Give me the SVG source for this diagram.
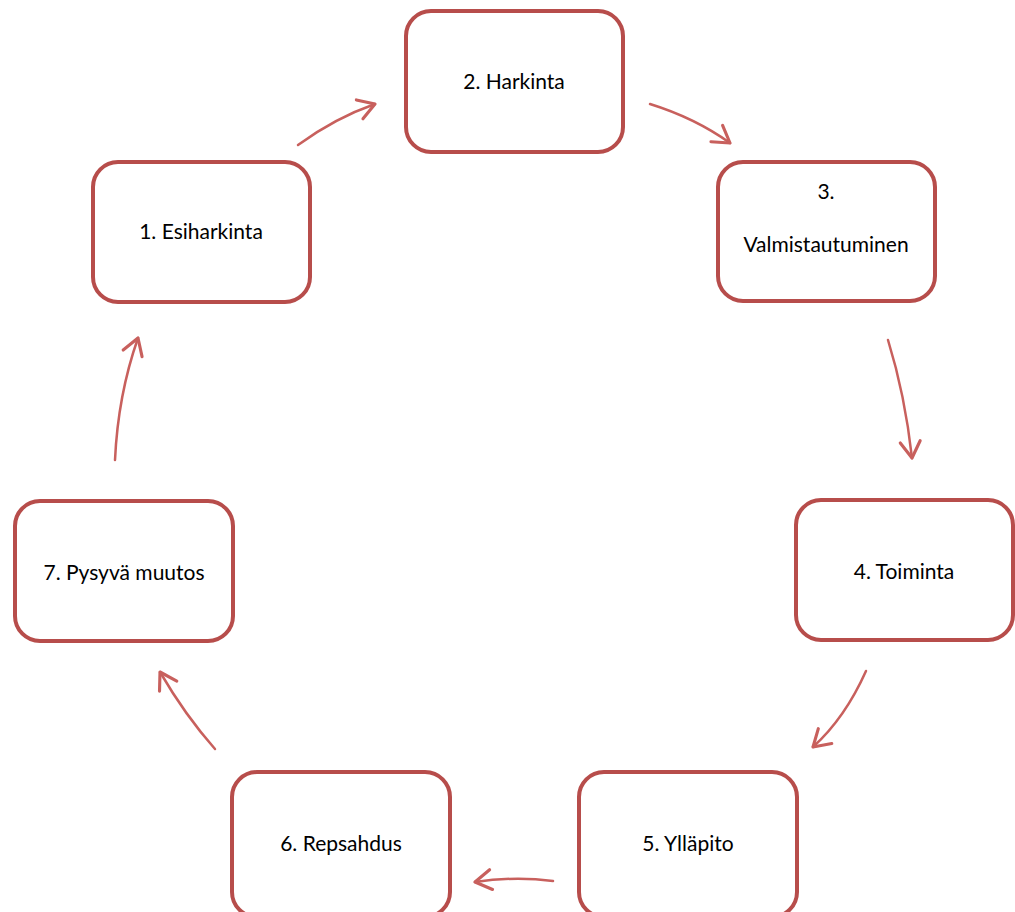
<svg xmlns="http://www.w3.org/2000/svg" width="1015" height="912" viewBox="0 0 1015 912">
<style>
.box{fill:#fff;stroke:#b74d4b;stroke-width:4}
.lbl{font-family:Lato,"Open Sans",sans-serif;font-size:21px;fill:#000;text-anchor:middle}
.arr{fill:none;stroke:#c8605d;stroke-width:2.5;stroke-linecap:round}
</style>
<defs>
<marker id="ah" markerUnits="userSpaceOnUse" markerWidth="30" markerHeight="30" refX="0" refY="0" viewBox="-16 -12 20 24" orient="auto" overflow="visible">
<path d="M-13,-8 L0,0 L-13,8" fill="none" stroke="#c8605d" stroke-width="2.5" stroke-linecap="round" stroke-linejoin="round"/>
</marker>
</defs>
<rect width="1015" height="912" fill="#fff"/>
<g id="connectors">
<path class="arr" marker-end="url(#ah)" d="M298,145 Q335,118 375,104"/>
<path class="arr" marker-end="url(#ah)" d="M650,104 Q695,118 730,143"/>
<path class="arr" marker-end="url(#ah)" d="M888,340 Q905,395 912,458"/>
<path class="arr" marker-end="url(#ah)" d="M866,671 Q845,718 813,747"/>
<path class="arr" marker-end="url(#ah)" d="M553,881 Q515,876 475,882"/>
<path class="arr" marker-end="url(#ah)" d="M215,749 Q185,715 160,672"/>
<path class="arr" marker-end="url(#ah)" d="M115,460 Q118,395 138,338"/>
</g>
<g id="n1"><rect class="box" x="93" y="162" width="217" height="140" rx="25"/><text class="lbl" x="201" y="239">1. Esiharkinta</text></g>
<g id="n2"><rect class="box" x="406" y="11" width="217" height="141" rx="25"/><text class="lbl" x="514" y="89">2. Harkinta</text></g>
<g id="n3"><rect class="box" x="718" y="162" width="217" height="139" rx="25"/><text class="lbl" x="826" y="199">3.</text><text class="lbl" x="826" y="252">Valmistautuminen</text></g>
<g id="n4"><rect class="box" x="796" y="500" width="217" height="140" rx="25"/><text class="lbl" x="904" y="579">4. Toiminta</text></g>
<g id="n5"><rect class="box" x="579" y="772" width="218" height="145" rx="25"/><text class="lbl" x="688" y="851">5. Ylläpito</text></g>
<g id="n6"><rect class="box" x="232" y="772" width="218" height="145" rx="25"/><text class="lbl" x="341" y="851">6. Repsahdus</text></g>
<g id="n7"><rect class="box" x="15" y="501" width="218" height="140" rx="25"/><text class="lbl" x="124" y="580">7. Pysyvä muutos</text></g>
</svg>
